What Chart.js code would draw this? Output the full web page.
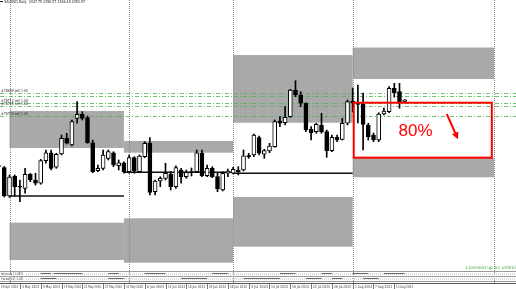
<!DOCTYPE html>
<html>
<head>
<meta charset="utf-8">
<script src="https://cdn.jsdelivr.net/npm/chart.js@4.4.1/dist/chart.umd.min.js"></script>
<style>
  html, body { margin: 0; padding: 0; background: #fff; }
  canvas { display: block; }
</style>
</head>
<body>
<canvas id="goldChart" width="516" height="289"></canvas>
<script>
// daily XAUUSD bars, first one is 29 Apr 2024 (bar index -2), 1 May 2024 = index 0
const firstBar = -2;
const open = [2335.1, 2333.0, 2284.0, 2318.6, 2300.5, 2297.3, 2321.6, 2311.7, 2306.0, 2345.1,
  2358.9, 2333.7, 2356.7, 2383.8, 2372.2, 2418.4, 2425.4, 2419.5, 2376.2, 2327.8,
  2331.9, 2349.2, 2358.9, 2336.4, 2341.6, 2326.1, 2350.3, 2326.1, 2352.0, 2375.2,
  2291.5, 2310.0, 2314.6, 2321.6, 2300.1, 2329.0, 2317.4, 2325.5, 2326.1, 2357.9,
  2319.1, 2331.9, 2317.4, 2294.4, 2323.3, 2323.3, 2329.0, 2329.0, 2353.7, 2355.0,
  2384.9, 2356.2, 2361.9, 2369.3, 2413.8, 2410.8, 2421.2, 2467.4, 2458.8, 2444.4,
  2399.4, 2395.3, 2406.9, 2395.3, 2362.4, 2385.6, 2382.1, 2409.8, 2448.4, 2445.4,
  2443.2, 2406.9, 2389.5, 2380.9, 2425.9, 2429.9, 2470.3, 2464.5, 2447.75];
const high = [2346.3, 2335.1, 2320.4, 2320.4, 2311.7, 2331.9, 2323.3, 2323.3, 2347.5, 2363.6,
  2363.6, 2357.9, 2389.5, 2392.5, 2415.5, 2447.2, 2429.9, 2422.4, 2380.9, 2337.6,
  2363.6, 2363.6, 2360.7, 2346.3, 2343.3, 2355.0, 2352.0, 2355.0, 2377.9, 2384.9,
  2311.7, 2317.4, 2340.6, 2326.1, 2336.4, 2331.9, 2329.0, 2332.5, 2363.6, 2363.6,
  2337.6, 2334.7, 2323.3, 2326.1, 2330.7, 2333.7, 2334.7, 2363.6, 2357.9, 2391.3,
  2387.8, 2364.8, 2375.2, 2415.5, 2421.2, 2438.5, 2468.6, 2483.5, 2464.5, 2445.4,
  2403.9, 2409.8, 2427.1, 2398.2, 2389.5, 2389.5, 2418.4, 2450.1, 2470.9, 2476.0,
  2462.2, 2409.8, 2393.0, 2428.1, 2436.3, 2473.1, 2479.0, 2479.0, 2450.57];
const low = [2325.5, 2282.3, 2281.4, 2284.0, 2274.2, 2288.7, 2308.8, 2303.0, 2304.3, 2340.6,
  2329.0, 2331.9, 2355.0, 2374.0, 2370.5, 2409.8, 2415.5, 2375.2, 2324.3, 2326.1,
  2329.0, 2346.3, 2334.7, 2329.0, 2323.3, 2323.3, 2323.3, 2325.0, 2350.3, 2285.7,
  2285.7, 2300.1, 2311.7, 2294.4, 2297.3, 2306.0, 2314.6, 2318.6, 2324.3, 2317.4,
  2317.4, 2315.7, 2291.5, 2292.7, 2317.4, 2322.1, 2320.4, 2327.3, 2349.2, 2352.0,
  2355.0, 2349.2, 2358.9, 2368.3, 2403.9, 2406.9, 2420.2, 2455.8, 2438.5, 2395.3,
  2380.9, 2392.5, 2392.5, 2351.0, 2360.7, 2378.0, 2380.9, 2406.9, 2429.3, 2410.3,
  2363.6, 2380.9, 2378.0, 2378.0, 2424.2, 2428.1, 2455.3, 2435.8, 2446.48];
const close = [2335.9, 2284.0, 2316.9, 2300.1, 2299.2, 2321.6, 2311.7, 2306.0, 2345.1, 2358.9,
  2331.9, 2356.2, 2383.8, 2375.2, 2412.6, 2425.4, 2418.4, 2376.2, 2326.1, 2331.9,
  2355.0, 2360.7, 2337.6, 2341.6, 2326.1, 2350.3, 2327.3, 2353.2, 2375.2, 2290.4,
  2310.0, 2314.6, 2323.3, 2300.1, 2333.0, 2317.4, 2325.0, 2324.7, 2358.9, 2319.1,
  2331.9, 2317.4, 2296.1, 2323.3, 2327.3, 2330.2, 2326.1, 2353.7, 2352.0, 2389.5,
  2357.9, 2362.4, 2370.5, 2412.6, 2409.8, 2420.2, 2467.4, 2458.8, 2444.4, 2398.2,
  2393.5, 2408.1, 2395.3, 2362.4, 2385.6, 2380.9, 2409.8, 2447.2, 2444.9, 2442.3,
  2407.7, 2386.6, 2380.9, 2425.9, 2431.1, 2470.3, 2462.7, 2447.2, 2450.57];

// monthly range boxes (bar index from/to, prices)
const boxFrom = [0, 22, 43, 66];
const boxTo = [22, 43, 66, 93.2];
const upperTop = [2431.1, 2379.2, 2527.9, 2540.9];
const upperBottom = [2367.1, 2358.9, 2410.8, 2486.4];
const lowerTop = [2237.8, 2245.4, 2282.3, 2349.8];
const lowerBottom = [2173.3, 2168.6, 2196.3, 2316.4];
const monthLine = [2284.0, 2325.0, 2323.3, null];
const separators = [0, 23, 43, 66, 93.2];

// order levels
const levels = [2461.7, 2457.0, 2444.9, 2439.7, 2421.6];
const levelText = ['#78699 sell 1.00', '', '#78712 sell 1.00', '#78715 sell 1.00', '#78720 sell 1.00'];

// bottom time axis
const dateIdx = [-2, 2, 6, 10, 14, 18, 22, 26, 30, 34, 38, 42, 46, 50, 54, 58, 62, 66, 70, 74];
const dateLabels = ['29 Apr 2024', '3 May 2024', '9 May 2024', '15 May 2024', '21 May 2024', '27 May 2024',
  '31 May 2024', '6 Jun 2024', '12 Jun 2024', '18 Jun 2024', '24 Jun 2024', '28 Jun 2024', '4 Jul 2024',
  '10 Jul 2024', '16 Jul 2024', '22 Jul 2024', '26 Jul 2024', '1 Aug 2024', '7 Aug 2024', '13 Aug 2024'];

// indicator strips (bar index ranges of darker marks)
const stripA = [[6, 8], [8.5, 14], [19, 21], [26, 30], [39, 42], [52, 55], [60, 62], [66, 69], [72, 76]];
const stripB = [[6, 9], [19, 22], [33, 38], [45, 52], [57, 60], [62, 64], [68, 71]];

// the red target box
const target = { from: 66.2, to: 92.75, top: 2445.4, bottom: 2350.3 };

document.addEventListener('DOMContentLoaded', () => {
  const bodies = open.map((o, k) => ({ x: firstBar + k, y: [Math.min(o, close[k]), Math.max(o, close[k])] }));
  const wicks = low.map((l, k) => ({ x: firstBar + k, y: [l, high[k]] }));

  const overlay = {
    id: 'overlay',
    beforeDatasetsDraw(chart) {
      const { ctx, scales: { x, y } } = chart;
      ctx.save();
      ctx.fillStyle = '#a9a9a9';
      boxFrom.forEach((b, i) => {
        const x1 = x.getPixelForValue(b), x2 = x.getPixelForValue(boxTo[i]);
        let t = y.getPixelForValue(upperTop[i]), btm = y.getPixelForValue(upperBottom[i]);
        ctx.fillRect(x1, t, x2 - x1, btm - t);
        t = y.getPixelForValue(lowerTop[i]); btm = y.getPixelForValue(lowerBottom[i]);
        ctx.fillRect(x1, t, x2 - x1, btm - t);
      });

      ctx.strokeStyle = '#8a8a8a';
      ctx.lineWidth = 1;
      ctx.setLineDash([1, 1]);
      separators.forEach(s => {
        const px = Math.round(x.getPixelForValue(s)) + 0.5;
        ctx.beginPath(); ctx.moveTo(px, 0); ctx.lineTo(px, 283); ctx.stroke();
      });

      ctx.setLineDash([4, 2, 1, 2]);
      ctx.strokeStyle = 'rgba(80,175,80,0.8)';
      levels.forEach(l => {
        const py = Math.round(y.getPixelForValue(l)) + 0.5;
        ctx.beginPath(); ctx.moveTo(0, py); ctx.lineTo(516, py); ctx.stroke();
      });
      ctx.setLineDash([]);

      ctx.strokeStyle = '#111';
      ctx.lineWidth = 1.5;
      monthLine.forEach((m, i) => {
        if (m === null) return;
        const py = y.getPixelForValue(m);
        ctx.beginPath();
        ctx.moveTo(x.getPixelForValue(boxFrom[i]), py);
        ctx.lineTo(x.getPixelForValue(boxTo[i]), py);
        ctx.stroke();
      });
      ctx.restore();
    },
    afterDatasetsDraw(chart) {
      const { ctx, scales: { x, y } } = chart;
      ctx.save();

      // level labels
      ctx.font = '4px "DejaVu Sans"';
      ctx.fillStyle = '#333';
      ctx.textBaseline = 'bottom';
      levels.forEach((l, i) => {
        if (levelText[i]) ctx.fillText(levelText[i], 1, y.getPixelForValue(l) - 0.5, 27);
      });

      // red box
      ctx.strokeStyle = '#ff0000';
      ctx.lineWidth = 2;
      const rx1 = x.getPixelForValue(target.from), rx2 = x.getPixelForValue(target.to);
      const ry1 = y.getPixelForValue(target.top), ry2 = y.getPixelForValue(target.bottom);
      ctx.strokeRect(rx1, ry1, rx2 - rx1, ry2 - ry1);

      ctx.fillStyle = '#ff0000';
      ctx.font = '17px "Liberation Sans Narrow", "Liberation Sans", Arial';
      ctx.textAlign = 'center';
      ctx.textBaseline = 'middle';
      ctx.fillText('80%', x.getPixelForValue(78.1), y.getPixelForValue(2396.5));

      // arrow
      const ax1 = x.getPixelForValue(84.1), ay1 = y.getPixelForValue(2425.9);
      const ax2 = x.getPixelForValue(86.25), ay2 = y.getPixelForValue(2382.1);
      const ang = Math.atan2(ay2 - ay1, ax2 - ax1);
      ctx.beginPath(); ctx.moveTo(ax1, ay1);
      ctx.lineTo(ax2 - 5 * Math.cos(ang), ay2 - 5 * Math.sin(ang)); ctx.stroke();
      ctx.beginPath();
      ctx.moveTo(ax2, ay2);
      ctx.lineTo(ax2 - 7 * Math.cos(ang) + 3.5 * Math.sin(ang), ay2 - 7 * Math.sin(ang) - 3.5 * Math.cos(ang));
      ctx.lineTo(ax2 - 7 * Math.cos(ang) - 3.5 * Math.sin(ang), ay2 - 7 * Math.sin(ang) + 3.5 * Math.cos(ang));
      ctx.closePath(); ctx.fill();

      // header
      ctx.textAlign = 'left';
      ctx.fillStyle = '#222';
      ctx.fillRect(0, 1, 3, 1);
      ctx.font = '4px "DejaVu Sans"';
      ctx.fillText('XAUUSD,Daily  2447.75 2450.57 2446.48 2450.57', 4, 2, 81);

      // licence note
      ctx.fillStyle = '#3aaa3a';
      ctx.font = '4.5px "DejaVu Sans"';
      ctx.fillText('Licensed up to: unlimited', 466, 268);

      // indicator strips
      ctx.strokeStyle = '#9a9a9a';
      ctx.lineWidth = 1;
      [271.5, 276.5, 281.5].forEach(py => {
        ctx.beginPath(); ctx.moveTo(0, py); ctx.lineTo(516, py); ctx.stroke();
      });
      ctx.strokeStyle = '#555';
      ctx.beginPath(); ctx.moveTo(0, 283.5); ctx.lineTo(516, 283.5); ctx.stroke();
      ctx.setLineDash([1, 1]);
      ctx.strokeStyle = '#b5b5b5';
      [274, 279].forEach(py => {
        ctx.beginPath(); ctx.moveTo(26, py); ctx.lineTo(516, py); ctx.stroke();
      });
      ctx.setLineDash([]);
      ctx.strokeStyle = '#666';
      stripA.forEach(([a, b]) => {
        ctx.beginPath(); ctx.moveTo(x.getPixelForValue(a), 273.5); ctx.lineTo(x.getPixelForValue(b), 273.5); ctx.stroke();
      });
      stripB.forEach(([a, b]) => {
        ctx.beginPath(); ctx.moveTo(x.getPixelForValue(a), 278.5); ctx.lineTo(x.getPixelForValue(b), 278.5); ctx.stroke();
      });
      ctx.fillStyle = '#333';
      ctx.font = '3.5px "DejaVu Sans"';
      ctx.textBaseline = 'middle';
      ctx.fillText('Volumes 12.08%', 1, 274, 22);
      ctx.fillText('Force(13) 1.08', 1, 279, 22);

      // dates
      ctx.font = '4px "DejaVu Sans"';
      ctx.fillStyle = '#444';
      ctx.strokeStyle = '#777';
      dateIdx.forEach((d, i) => {
        const px = Math.round(x.getPixelForValue(d)) + 0.5;
        ctx.beginPath(); ctx.moveTo(px, 284); ctx.lineTo(px, 289); ctx.stroke();
        ctx.fillText(dateLabels[i], px + 1.5, 287, 17);
      });
      ctx.restore();
    }
  };

  const ctx = document.getElementById('goldChart').getContext('2d');
  new Chart(ctx, {
    type: 'bar',
    data: {
      datasets: [{
        label: 'body',
        data: bodies,
        backgroundColor: open.map((o, k) => close[k] >= o ? '#ffffff' : '#000000'),
        borderColor: '#000',
        borderWidth: 1,
        borderSkipped: false,
        barThickness: 4,
        minBarLength: 1,
        grouped: false,
        order: 0
      }, {
        label: 'wick',
        data: wicks,
        backgroundColor: '#000',
        borderWidth: 0,
        barThickness: 1,
        grouped: false,
        order: 1
      }]
    },
    options: {
      responsive: false,
      animation: false,
      layout: { padding: 0 },
      scales: {
        x: { type: 'linear', min: -1.827, max: 97.404, offset: false, display: false },
        y: { min: 2123.1, max: 2623.1, display: false }
      },
      plugins: {
        legend: { display: false },
        tooltip: { enabled: false }
      }
    },
    plugins: [overlay]
  });
});
</script>
</body>
</html>
